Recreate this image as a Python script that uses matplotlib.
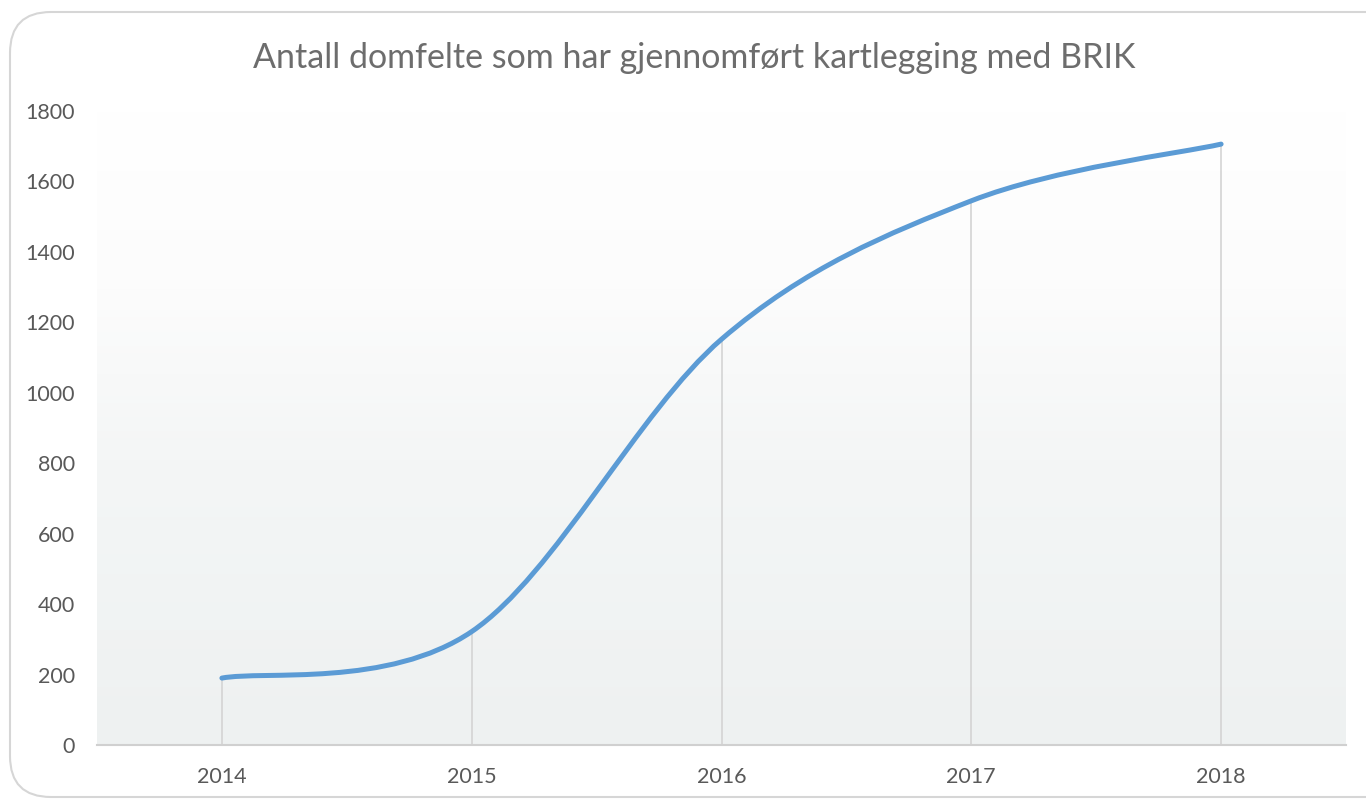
import numpy as np
import matplotlib
matplotlib.use("Agg")
from matplotlib import pyplot as plt
from matplotlib.path import Path
from matplotlib.patches import PathPatch, FancyBboxPatch

# data
years = ["2014", "2015", "2016", "2017", "2018"]
counts = [190, 322, 1152, 1545, 1706]
yticks = [0, 200, 400, 600, 800, 1000, 1200, 1400, 1600, 1800]
title = "Antall domfelte som har gjennomført kartlegging med BRIK"

plt.rcParams['font.family'] = ['Lato', 'DejaVu Sans']
grey_txt = '#595959'

fig = plt.figure(figsize=(13.66, 8), dpi=100)
fig.patch.set_facecolor('white')

# rounded chart frame
frame = FancyBboxPatch((10 / 1366, 3 / 800), 1.05, (788 - 3) / 800,
                       boxstyle="round,pad=0,rounding_size=0.03",
                       transform=fig.transFigure, facecolor='none',
                       edgecolor='#d6d6d6', linewidth=1.5,
                       mutation_aspect=1366 / 800, zorder=-1)
fig.patches.append(frame)

ax = fig.add_axes([97 / 1366, 1 - 745 / 800, (1346 - 97) / 1366, (745 - 111) / 800])
ax.set_xlim(-0.5, len(years) - 0.5)
ax.set_ylim(0, 1800)

# soft vertical gradient in the plot area (white at top, pale grey at bottom)
grad = np.linspace(0, 1, 256).reshape(-1, 1)
cmap = matplotlib.colors.LinearSegmentedColormap.from_list(
    'bg', [(0.0, '#eef1f1'), (0.45, '#f4f6f6'), (0.72, '#fcfcfc'), (1.0, '#ffffff')])
ax.imshow(grad, extent=[0, 1, 0, 1], transform=ax.transAxes, origin='lower',
          aspect='auto', cmap=cmap, zorder=0)

x = np.arange(len(years))
y = np.array(counts, dtype=float)

# drop lines
ax.vlines(x, 0, y, color='#d4d4d4', linewidth=1.2, zorder=1)

# Excel-like smoothed line (bezier through the points)
pts = np.column_stack([x, y])
ext = np.vstack([pts[0], pts, pts[-1]])
verts = [tuple(pts[0])]
codes = [Path.MOVETO]
for i in range(len(pts) - 1):
    p0, p1, p2, p3 = ext[i], ext[i + 1], ext[i + 2], ext[i + 3]
    c1 = p1 + (p2 - p0) / 6
    c2 = p2 - (p3 - p1) / 6
    verts += [tuple(c1), tuple(c2), tuple(p2)]
    codes += [Path.CURVE4] * 3
ax.add_patch(PathPatch(Path(verts, codes), facecolor='none', edgecolor='#5b9bd5',
                       linewidth=3.6, capstyle='round', zorder=3))

for s in ['top', 'right', 'left']:
    ax.spines[s].set_visible(False)
ax.spines['bottom'].set_color('#d0d0d0')
ax.spines['bottom'].set_linewidth(1.5)

ax.set_xticks(x)
ax.set_xticklabels(years)
ax.set_yticks(yticks)
ax.tick_params(axis='both', length=0, labelsize=15.5, colors=grey_txt)
ax.tick_params(axis='x', pad=16)
ax.tick_params(axis='y', pad=16)

fig.text(0.5 + 0.008, 1 - 58 / 800, title, ha='center', va='center',
         fontsize=24.5, color='#6d6d6d')

fig.savefig('out.png', dpi=100)
